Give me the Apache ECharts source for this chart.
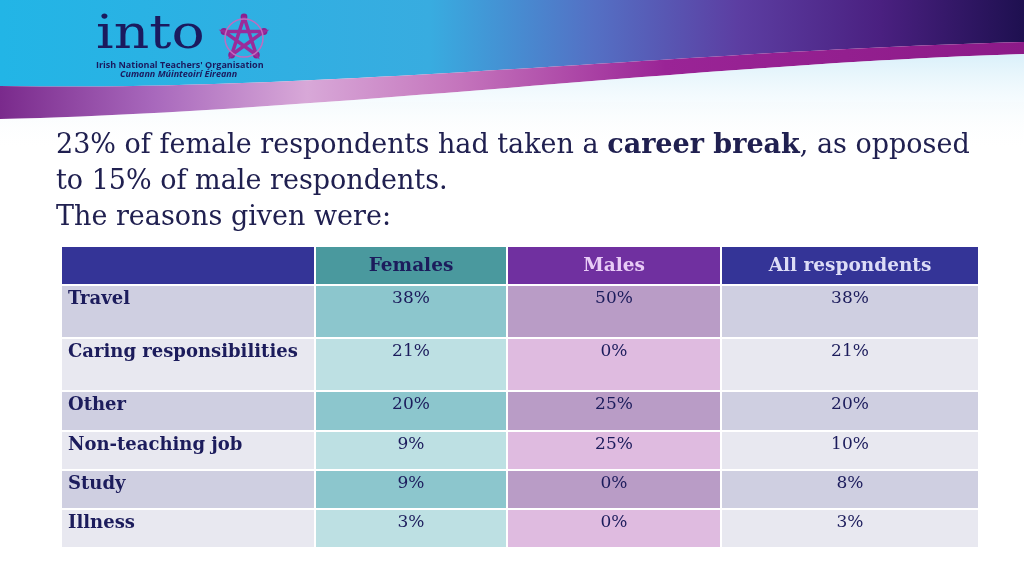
<!DOCTYPE html>
<html>
<head>
<meta charset="utf-8">
<script src="https://cdn.jsdelivr.net/npm/echarts@6/dist/echarts.min.js"></script>
<style>
  html, body { margin: 0; padding: 0; background: #fff; }
  #main { width: 1024px; height: 576px; }
</style>
</head>
<body>
<div id="main"></div>
<script>
// table content
const categories = ['Travel', 'Caring responsibilities', 'Other', 'Non-teaching job', 'Study', 'Illness'];
const groups = ['Females', 'Males', 'All respondents'];
const females = [38, 21, 20, 9, 9, 3];
const males = [50, 0, 25, 25, 0, 0];
const allRespondents = [38, 21, 20, 10, 8, 3];

// cell edges inside the grid (px)
const colEdges = [0, 254, 446, 660, 918];
const rowEdges = [0, 39, 92, 145, 185, 224, 263, 302];

const headFill = ['#343497', '#4a999e', '#7030a0', '#343497'];
const headText = ['#ffffff', '#1c1c5c', '#e8ccf6', '#dcdcf6'];
const darkFill = ['#cfcfe1', '#8cc6cd', '#b99cc6', '#cfcfe1'];
const lightFill = ['#e8e8f0', '#bde0e3', '#dfbbe0', '#e8e8f0'];
const ink = '#1c1c5c';
const serif = "Georgia, 'DejaVu Serif', serif";

const cells = [[0, 0, '']];
groups.forEach((g, i) => cells.push([i + 1, 0, g]));
categories.forEach((c, r) => {
  cells.push([0, r + 1, c]);
  [females, males, allRespondents].forEach((s, i) => cells.push([i + 1, r + 1, s[r] + '%']));
});

function renderCell(params, api) {
  const c = api.value(0), r = api.value(1);
  const txt = cells[params.dataIndex][2];
  const p0 = api.coord([colEdges[c], rowEdges[r]]);
  const p1 = api.coord([colEdges[c + 1], rowEdges[r + 1]]);
  const fill = r === 0 ? headFill[c] : (r % 2 ? darkFill[c] : lightFill[c]);
  let size = 17;
  if (r === 0) size = 18.5;
  else if (c === 0) size = 18;
  return {
    type: 'group',
    children: [
      {
        type: 'rect',
        shape: { x: p0[0], y: p0[1], width: p1[0] - p0[0], height: p1[1] - p0[1] },
        style: { fill: fill, stroke: '#ffffff', lineWidth: 2 }
      },
      {
        type: 'text',
        x: c === 0 ? p0[0] + 7 : (p0[0] + p1[0]) / 2,
        y: r === 0 ? (p0[1] + p1[1]) / 2 + 1 : p0[1] + 14,
        style: {
          text: txt,
          fill: r === 0 ? headText[c] : ink,
          fontFamily: serif,
          fontSize: size,
          fontWeight: (r === 0 || c === 0) ? 'bold' : 'normal',
          align: c === 0 ? 'left' : 'center',
          verticalAlign: 'middle'
        }
      }
    ]
  };
}

// sample a cubic bezier for the decorative header shapes
function cubic(a, b, c, d, n) {
  const pts = [];
  for (let i = 0; i <= n; i++) {
    const t = i / n, u = 1 - t;
    pts.push([
      u * u * u * a[0] + 3 * u * u * t * b[0] + 3 * u * t * t * c[0] + t * t * t * d[0],
      u * u * u * a[1] + 3 * u * u * t * b[1] + 3 * u * t * t * c[1] + t * t * t * d[1]
    ]);
  }
  return pts;
}
const swooshTop = cubic([0, 86], [320, 92], [700, 50], [1024, 42], 48);
const swooshBot = cubic([0, 119], [320, 112], [700, 64], [1024, 54], 48);

// logo emblem
const emblem = [];
const cx = 244, cy = 38, R = 21;
const star = [];
for (let k = 0; k < 5; k++) {
  const a = -Math.PI / 2 + k * 2 * Math.PI / 5;
  const hx = cx + R * Math.cos(a), hy = cy + R * Math.sin(a);
  emblem.push({ type: 'circle', shape: { cx: hx, cy: hy, r: 3.4 }, style: { fill: '#8b1f8f' } });
  star.push([hx, hy]);
}
const pentagram = [0, 2, 4, 1, 3, 0].map(i => star[i]);
emblem.push({ type: 'polyline', shape: { points: pentagram }, style: { stroke: '#9a2c9a', lineWidth: 3.5, fill: null } });
emblem.push({ type: 'circle', shape: { cx: cx, cy: cy, r: R - 2 }, style: { stroke: '#c06cc0', lineWidth: 1.5, fill: null } });

const chart = echarts.init(document.getElementById('main'));
chart.setOption({
  animation: false,
  grid: { left: 61, top: 246, width: 918, height: 302 },
  xAxis: { type: 'value', min: 0, max: 918, show: false },
  yAxis: { type: 'value', min: 0, max: 302, inverse: true, show: false },
  graphic: [
    {
      type: 'polygon', z: -10,
      shape: { points: [[0, 0], [1024, 0]].concat(swooshTop.slice().reverse()) },
      style: {
        fill: {
          type: 'linear', x: 0, y: 0, x2: 1, y2: 0,
          colorStops: [
            { offset: 0, color: '#22b5e6' },
            { offset: 0.42, color: '#38ace0' },
            { offset: 0.58, color: '#5470c4' },
            { offset: 0.72, color: '#5c3ea2' },
            { offset: 0.86, color: '#4a2080' },
            { offset: 1, color: '#1e1050' }
          ]
        }
      }
    },
    {
      type: 'polygon', z: -9,
      shape: { points: swooshTop.concat(swooshBot.slice().reverse()) },
      style: {
        fill: {
          type: 'linear', x: 0, y: 0, x2: 1, y2: 0,
          colorStops: [
            { offset: 0, color: '#7a2a8c' },
            { offset: 0.15, color: '#a868bc' },
            { offset: 0.3, color: '#d8a8d8' },
            { offset: 0.45, color: '#c474bc' },
            { offset: 0.65, color: '#9a2496' },
            { offset: 1, color: '#8c1a88' }
          ]
        }
      }
    },
    {
      type: 'polygon', z: -9,
      shape: { points: swooshBot.concat([[1024, 150], [0, 150]]) },
      style: {
        fill: {
          type: 'linear', x: 0, y: 0, x2: 0, y2: 1,
          colorStops: [
            { offset: 0, color: 'rgba(205,235,248,0.75)' },
            { offset: 1, color: 'rgba(255,255,255,0)' }
          ]
        }
      }
    },
    {
      type: 'text', left: 96, top: 13, z: 5, scaleX: 1.2,
      style: { text: 'into', fill: '#1b1a5e', fontFamily: serif, fontSize: 46 }
    },
    {
      type: 'text', left: 96, top: 61, z: 5,
      style: { text: "Irish National Teachers' Organisation", fill: '#1b1a5e', fontFamily: 'Open Sans, sans-serif', fontWeight: 'bold', fontSize: 9 }
    },
    {
      type: 'text', left: 120, top: 70, z: 5,
      style: { text: 'Cumann Múinteoirí Éireann', fill: '#1b1a5e', fontFamily: 'Open Sans, sans-serif', fontWeight: 'bold', fontStyle: 'italic', fontSize: 9 }
    },
    { type: 'group', z: 5, children: emblem },
    {
      type: 'text', left: 56, top: 128, z: 5,
      style: {
        text: '23% of female respondents had taken a {b|career break}, as opposed\nto 15% of male respondents.\nThe reasons given were:',
        fill: '#202050',
        fontFamily: serif,
        fontSize: 27,
        lineHeight: 36,
        rich: { b: { fontWeight: 'bold', fontFamily: serif, fontSize: 27, fill: '#202050' } }
      }
    }
  ],
  series: [{
    type: 'custom',
    renderItem: renderCell,
    clip: false,
    data: cells.map(d => [d[0], d[1]])
  }]
});
</script>
</body>
</html>
